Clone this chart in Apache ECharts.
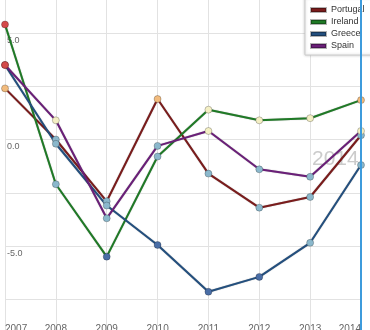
<!DOCTYPE html>
<html><head><meta charset="utf-8">
<script src="https://cdn.jsdelivr.net/npm/echarts@6/dist/echarts.min.js"></script>
<style>html,body{margin:0;padding:0;background:#fff}#c{width:370px;height:330px}</style>
</head><body><div id="c"></div>
<script>
const years = ['2007','2008','2009','2010','2011','2012','2013','2014'];
const portugal = [2.4, 0.0, -2.9, 1.9, -1.6, -3.2, -2.7, 0.2];
const ireland = [5.4, -2.1, -5.5, -0.8, 1.4, 0.9, 1.0, 1.85];
const greece = [3.5, -0.2, -3.1, -4.95, -7.15, -6.45, -4.85, -1.2];
const spain = [3.5, 0.9, -3.7, -0.3, 0.4, -1.4, -1.75, 0.4];
const names = ['Portugal','Ireland','Greece','Spain'];
const seriesData = [portugal, ireland, greece, spain];
const labelYears = ['2014'];

const lineColors = ['#7a1c1c','#1f7a26','#234f7e','#6a1f78'];
function pointColor(v){
  if (v >= 3) return '#d44a4a';
  if (v >= 1.5) return '#f2bb7d';
  if (v >= 0.3) return '#f4efc4';
  if (v > -4.9) return '#8bb8cc';
  return '#4a6ea6';
}
const chart = echarts.init(document.getElementById('c'), null, {renderer:'canvas'});
const series = names.map((n,i)=>({
  name:n, type:'line', animation:false,
  data: seriesData[i].map(v=>({value:v, itemStyle:{color:pointColor(v)}})),
  symbol:'circle', symbolSize:7,
  lineStyle:{color:lineColors[i], width:2, shadowColor:'rgba(0,0,0,0.35)', shadowBlur:1},
  itemStyle:{color:lineColors[i], borderColor:'rgba(0,0,0,0.3)', borderWidth:0.8},
  emphasis:{disabled:true}
}));
series[3].markLine = {
  silent:true, symbol:['none','none'], label:{show:false}, animation:false,
  lineStyle:{color:'#3d9bdc', width:2, type:'solid'},
  data:[{xAxis: labelYears[0]}]
};
chart.setOption({
  animation:false,
  backgroundColor:'#fff',
  textStyle:{fontFamily:'Liberation Sans, Arial, sans-serif'},
  grid:{left:5, width:356, top:-20.25, height:372.75, containLabel:false, outerBoundsMode:'none'},
  xAxis:{
    type:'category', data:years, boundaryGap:false, offset:-30.5,
    axisLine:{show:false}, axisTick:{show:false},
    axisLabel:{color:'#666', fontSize:10, margin:2, alignMinLabel:'left', alignMaxLabel:'right'},
    splitLine:{show:true, lineStyle:{color:'#e2e2e2', width:1}}
  },
  yAxis:{
    type:'value', min:-10, max:7.5, interval:2.5,
    axisLine:{show:false}, axisTick:{show:false},
    axisLabel:{inside:true, margin:2, color:'#666', fontSize:9, verticalAlign:'top', padding:[3,0,0,0],
      formatter:v=> (Math.abs(v % 5) < 1e-9 && v > -10 ? v.toFixed(1) : '')},
    splitLine:{show:true, lineStyle:{color:'#e2e2e2', width:1}}
  },
  legend:{
    orient:'vertical', left:305, top:-2,
    backgroundColor:'#fff', borderColor:'#ccc', borderWidth:1,
    padding:[6,40,3,5], itemWidth:15, itemHeight:4, itemGap:0, icon:'rect',
    shadowBlur:3, shadowColor:'rgba(0,0,0,0.2)',
    textStyle:{fontSize:9, color:'#333', lineHeight:12},
    data: names.map((n,i)=>({name:n, itemStyle:{color:lineColors[i]}}))
  },
  graphic:[{type:'text', left:312, top:149, z:-1, silent:true,
    style:{text:labelYears[0], font:'normal 21px Liberation Sans, Arial, sans-serif', fill:'rgba(160,160,160,0.55)'}}],
  series:series
});
</script></body></html>
